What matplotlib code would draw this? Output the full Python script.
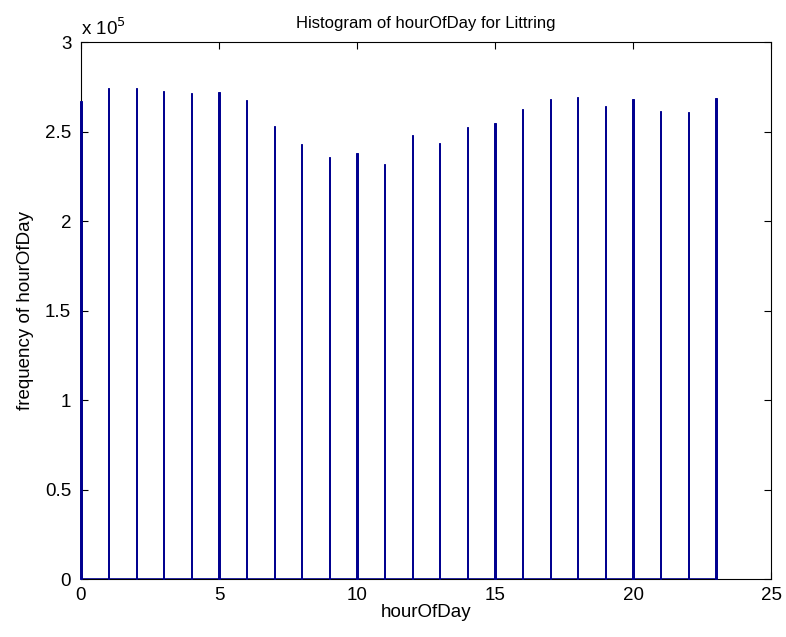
import numpy as np
import matplotlib
matplotlib.use('Agg')
import matplotlib.pyplot as plt
from matplotlib.ticker import FuncFormatter

plt.rcParams['font.family'] = ['Liberation Sans', 'DejaVu Sans']

# hour of day and counts
hours = list(range(0, 24))
counts = [2.670, 2.741, 2.743, 2.728, 2.717, 2.721, 2.676, 2.532,
          2.430, 2.359, 2.380, 2.317, 2.480, 2.437, 2.525, 2.549,
          2.626, 2.680, 2.694, 2.642, 2.680, 2.613, 2.607, 2.689]
counts = [c * 1e5 for c in counts]

BLUE = '#00008F'

def main():
    fig = plt.figure(figsize=(7.86, 6.37), dpi=100)
    ax = fig.add_axes([0.103, 0.091, 0.878, 0.843])

    widths = [0.04] * (len(hours) - 1) + [0.08]
    bars = ax.bar(hours, counts, width=widths, color=BLUE, edgecolor=BLUE,
                  linewidth=0.7, zorder=3)
    for b in bars:
        b.set_clip_on(False)
    ax.plot([hours[0], hours[-1]], [0, 0], color=BLUE, lw=1.2, zorder=3)

    ax.set_xlim(0, 25)
    ax.set_ylim(0, 3e5)
    ax.set_xticks([0, 5, 10, 15, 20, 25])
    ax.set_yticks(np.arange(0, 3.01e5, 0.5e5))
    ax.yaxis.set_major_formatter(FuncFormatter(lambda v, p: '%g' % (v / 1e5)))
    ax.tick_params(direction='in', length=5, labelsize=13.5, top=True, right=True)
    ax.tick_params(axis='x', pad=6)
    ax.tick_params(axis='y', pad=7)
    for s in ax.spines.values():
        s.set_linewidth(0.8)

    ax.text(0, 1.006, r'x 10$^5$', transform=ax.transAxes, fontsize=13.5,
            ha='left', va='bottom')
    ax.set_title('Histogram of hourOfDay for Littring', fontsize=12, pad=10)
    ax.set_xlabel('hourOfDay', fontsize=13.5, labelpad=0)
    ax.set_ylabel('frequency of hourOfDay', fontsize=13.5, labelpad=8)

    fig.savefig('out.png', dpi=100)


if __name__ == "__main__":
    main()
